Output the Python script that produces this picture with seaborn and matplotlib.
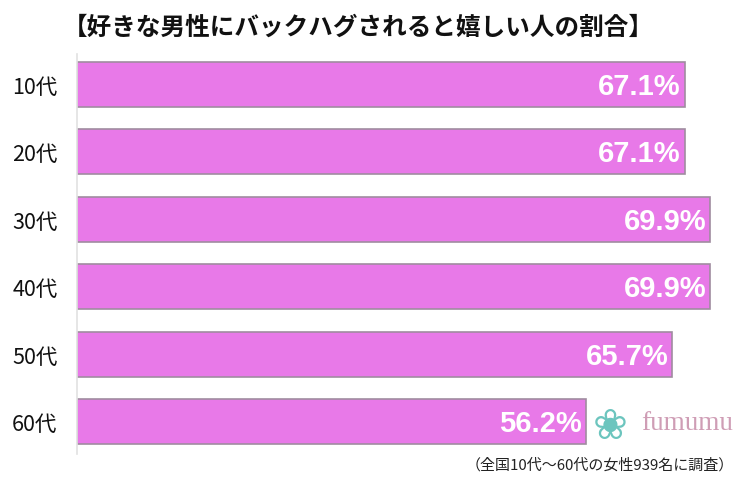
import matplotlib
matplotlib.use("Agg")
import matplotlib.pyplot as plt
import seaborn as sns
import pandas as pd

categories = ["10代", "20代", "30代", "40代", "50代", "60代"]
values = [67.1, 67.1, 69.9, 69.9, 65.7, 56.2]
value_labels = ["67.1%", "67.1%", "69.9%", "69.9%", "65.7%", "56.2%"]
title = "【好きな男性にバックハグされると嬉しい人の割合】"
footnote = "（全国10代～60代の女性939名に調査）"

sns.set_theme(style="white")
plt.rcParams['font.family'] = ['Noto Sans CJK JP', 'DejaVu Sans']

W, H = 749, 485
fig = plt.figure(figsize=(W / 100, H / 100), dpi=100)
fig.patch.set_facecolor("white")

ax_left, ax_top, ax_bottom = 77, 55, 455
xmax = 74.0
ax_w = 9.06 * xmax
ax = fig.add_axes([ax_left / W, 1 - ax_bottom / H, ax_w / W, (ax_bottom - ax_top) / H])

df = pd.DataFrame({"cat": categories, "val": values})
sns.barplot(data=df, x="val", y="cat", orient="h", color="#E879E8", saturation=1,
            width=0.67, edgecolor="#A08CA0", linewidth=1.2, ax=ax)

ax.set_xlim(0, xmax)
ax.set_ylim(5.48, -0.45)
ax.set_xlabel("")
ax.set_ylabel("")
ax.set_xticks([])
for s in ["top", "right", "bottom"]:
    ax.spines[s].set_visible(False)
ax.spines["left"].set_color("#E2E2E2")
ax.spines["left"].set_linewidth(1.2)
ax.tick_params(axis="y", length=0, pad=14, labelsize=15.5, labelcolor="#111111")
ax.set_facecolor("white")

for i, (v, lab) in enumerate(zip(values, value_labels)):
    ax.text(v - 0.45, i + 0.02, lab, ha="right", va="center", color="white",
            fontsize=21, fontweight="bold", family="Liberation Sans")

fig.text(358 / W, 1 - 28 / H, title, ha="center", va="center", fontsize=17.7,
         fontweight="bold", color="#111111")

fig.text(734 / W, 1 - 465 / H, footnote, ha="right", va="center", fontsize=10.8,
         color="#222222")

# logo
fig.text(610 / W, 1 - 427 / H, "\u2740", ha="center", va="center", fontsize=30,
         color="#6CC5BE", family="DejaVu Sans")
fig.text(641 / W, 1 - 424 / H, "fumumu", ha="left", va="center", fontsize=19.5,
         color="#CF9DB5", family="Liberation Serif")

fig.savefig("out.png", dpi=100, facecolor="white")
